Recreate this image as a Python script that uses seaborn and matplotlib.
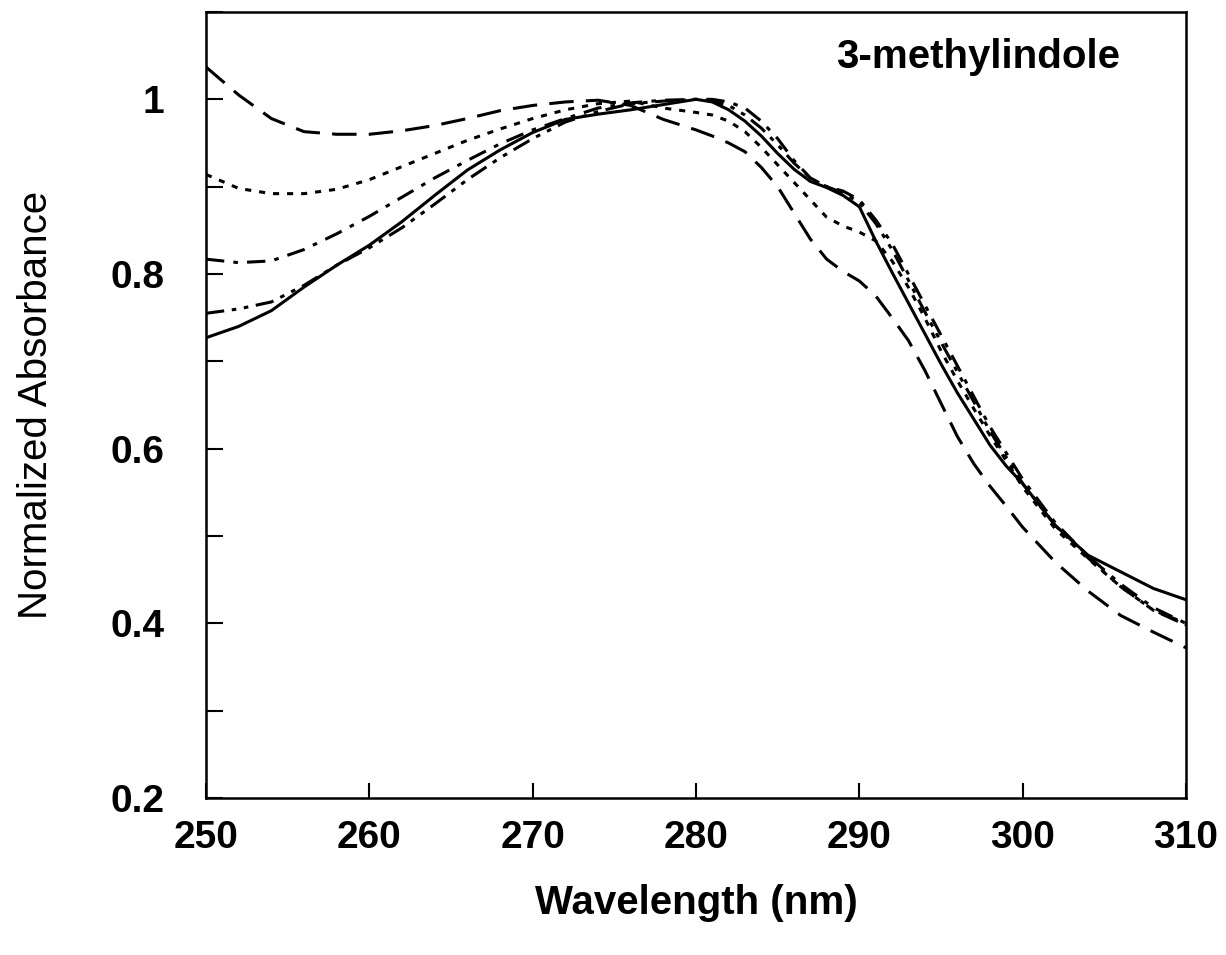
import numpy as np
import pandas as pd
import matplotlib
matplotlib.use("Agg")
import matplotlib.pyplot as plt
from matplotlib.ticker import MultipleLocator
import seaborn as sns

# wavelength grid (nm), finer through the shoulder region
wavelength = [250, 252, 254, 256, 258, 260, 262, 264, 266, 268, 270, 272, 274, 276, 278, 280,
              281, 282, 283, 284, 285, 286, 287, 288, 289, 290,
              291, 292, 293, 294, 295, 296, 297, 298, 299, 300,
              302, 304, 306, 308, 310]

# solid
abs_solid = [0.727, 0.740, 0.758, 0.785, 0.810, 0.833, 0.860, 0.890, 0.919, 0.942, 0.962, 0.977, 0.983, 0.988, 0.994, 1.000,
             0.997, 0.988, 0.975, 0.958, 0.938, 0.920, 0.906, 0.899, 0.890, 0.877,
             0.838, 0.802, 0.767, 0.732, 0.697, 0.664, 0.634, 0.604, 0.580, 0.560,
             0.512, 0.478, 0.459, 0.440, 0.427]

# long dash
abs_longdash = [1.037, 1.005, 0.978, 0.963, 0.960, 0.960, 0.964, 0.970, 0.978, 0.987, 0.993, 0.997, 0.999, 0.993, 0.977, 0.965,
                0.958, 0.950, 0.940, 0.922, 0.900, 0.870, 0.840, 0.817, 0.803, 0.792,
                0.775, 0.750, 0.724, 0.690, 0.652, 0.614, 0.583, 0.557, 0.534, 0.510,
                0.470, 0.437, 0.409, 0.390, 0.372]

# short dash
abs_dotted = [0.914, 0.898, 0.892, 0.892, 0.897, 0.908, 0.923, 0.938, 0.953, 0.966, 0.978, 0.988, 0.995, 0.998, 0.990, 0.985,
              0.982, 0.975, 0.963, 0.945, 0.925, 0.905, 0.885, 0.865, 0.855, 0.848,
              0.838, 0.815, 0.785, 0.750, 0.712, 0.678, 0.646, 0.615, 0.586, 0.556,
              0.508, 0.474, 0.442, 0.415, 0.400]

# dash-dot
abs_dashdot = [0.817, 0.813, 0.815, 0.828, 0.846, 0.866, 0.888, 0.910, 0.930, 0.949, 0.965, 0.978, 0.990, 0.996, 0.999, 1.000,
               1.000, 0.997, 0.990, 0.975, 0.955, 0.930, 0.910, 0.900, 0.895, 0.885,
               0.862, 0.835, 0.800, 0.765, 0.730, 0.695, 0.660, 0.625, 0.595, 0.565,
               0.515, 0.477, 0.445, 0.418, 0.400]

# dash-dot-dot
abs_dashdotdot = [0.755, 0.760, 0.768, 0.787, 0.810, 0.830, 0.853, 0.880, 0.908, 0.933, 0.955, 0.974, 0.986, 0.995, 0.998, 1.000,
                  0.998, 0.993, 0.982, 0.967, 0.948, 0.927, 0.910, 0.900, 0.893, 0.882,
                  0.858, 0.828, 0.793, 0.757, 0.722, 0.688, 0.654, 0.620, 0.590, 0.560,
                  0.512, 0.475, 0.442, 0.415, 0.398]

series = {
    "solid": abs_solid,
    "longdash": abs_longdash,
    "dotted": abs_dotted,
    "dashdot": abs_dashdot,
    "dashdotdot": abs_dashdotdot,
}

df = pd.concat(
    [pd.DataFrame({"wl": wavelength, "A": vals, "curve": name}) for name, vals in series.items()],
    ignore_index=True,
)

sns.set_style("ticks")
plt.rcParams["font.family"] = ["Liberation Sans", "DejaVu Sans"]
plt.rcParams["text.color"] = "black"
plt.rcParams["axes.labelcolor"] = "black"
plt.rcParams["xtick.color"] = "black"
plt.rcParams["ytick.color"] = "black"

fig = plt.figure(figsize=(12.26, 9.55), dpi=100)
ax = fig.add_axes([206 / 1226, 1 - 798 / 955, 980 / 1226, 786 / 955])

dash_styles = {
    "solid": "",
    "longdash": (8, 4),
    "dotted": (2, 2.6),
    "dashdot": (6, 3, 1.5, 3),
    "dashdotdot": (6, 2.5, 1.5, 2.5, 1.5, 2.5),
}
sns.lineplot(data=df, x="wl", y="A", hue="curve", style="curve",
             palette=["black"] * 5, dashes=dash_styles, linewidth=2.2,
             legend=False, ax=ax, sort=False)

ax.set_xlim(250, 310)
ax.set_ylim(0.2, 1.1)
ax.set_xticks(np.arange(250, 311, 10))
ax.set_yticks([0.2, 0.4, 0.6, 0.8, 1.0])
ax.set_yticklabels(["0.2", "0.4", "0.6", "0.8", "1"])
ax.yaxis.set_minor_locator(MultipleLocator(0.1))

for s in ax.spines.values():
    s.set_linewidth(1.8)
    s.set_color("black")

ax.tick_params(axis="both", which="both", direction="in", width=1.5, color="black")
ax.tick_params(axis="x", which="major", length=11, pad=16, labelsize=28)
ax.tick_params(axis="y", which="both", length=12, pad=30, labelsize=28)
for lab in ax.get_xticklabels() + ax.get_yticklabels():
    lab.set_fontweight("bold")

ax.set_xlabel("Wavelength (nm)", fontsize=29, fontweight="bold")
ax.set_ylabel("Normalized Absorbance", fontsize=29)
ax.xaxis.set_label_coords(0.5, -0.11)
ax.yaxis.set_label_coords(-0.154, 0.5)

ax.text(0.788, 0.943, "3-methylindole", transform=ax.transAxes, fontsize=29,
        fontweight="bold", ha="center", va="center")

fig.savefig("out.png", dpi=100, facecolor="white")
